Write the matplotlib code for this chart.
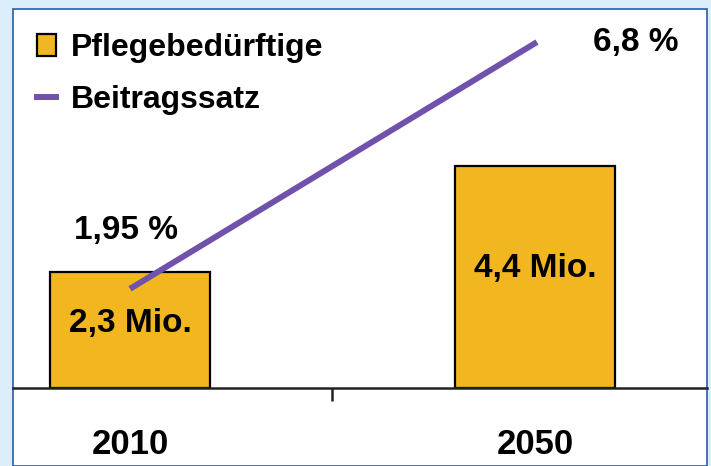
import matplotlib
matplotlib.use("Agg")
import matplotlib.pyplot as plt
from matplotlib.patches import Rectangle, Patch
from matplotlib.lines import Line2D

plt.rcParams['font.family'] = ['Liberation Sans', 'DejaVu Sans']
plt.rcParams['font.weight'] = 'bold'

jahre = ['2010', '2050']
pflegebeduerftige = [2.3, 4.4]       # Mio.
beitragssatz = [1.95, 6.8]           # %
bar_labels = ['2,3 Mio.', '4,4 Mio.']
line_labels = ['1,95 %', '6,8 %']

ORANGE = '#F2B620'
LILA = '#7052AC'
HINTERGRUND = '#DCEEFA'
RAND = '#2A5CA8'

W, H = 711, 466
fig = plt.figure(figsize=(W / 100, H / 100), dpi=100, facecolor=HINTERGRUND)

# weisses Panel mit blauem Rand (hinter den Achsen)
fig.patches.append(Rectangle((13 / W, 0), 694 / W, (H - 9) / H, transform=fig.transFigure,
                             facecolor='white', edgecolor=RAND, linewidth=1.2, zorder=-10))

ax = fig.add_axes([13 / W, 78 / H, 694 / W, 379 / H])
ax.set_zorder(1)
ax.set_facecolor('none')
x = [0, 1]
bars = ax.bar(x, pflegebeduerftige, width=0.395, color=ORANGE, edgecolor='black', linewidth=1.6)
ax.set_xlim(-0.289, 1.425)
ax.set_ylim(0, 7.5)
for s in ['top', 'left', 'right']:
    ax.spines[s].set_visible(False)
ax.spines['bottom'].set_linewidth(1.8)
ax.spines['bottom'].set_color('#222222')
ax.set_yticks([])
ax.set_xticks(x)
ax.set_xticklabels(jahre, fontsize=25, fontweight='bold')
ax.tick_params(axis='x', which='major', length=0, pad=29)
ax.set_xticks([0.5], minor=True)
ax.tick_params(axis='x', which='minor', length=9.5, width=1.8, color='#222222')

ax.text(0, 1.27, bar_labels[0], ha='center', va='center', fontsize=24, fontweight='bold')
ax.text(1, 2.37, bar_labels[1], ha='center', va='center', fontsize=24, fontweight='bold')

ax2 = ax.twinx()
ax2.set_zorder(2)
ax2.set_facecolor('none')
ax2.set_ylim(0, 7.45)
ax2.set_yticks([])
for s in ax2.spines.values():
    s.set_visible(False)
ax2.plot([0, 1.005], beitragssatz, color=LILA, linewidth=4.3, solid_capstyle='butt')
ax2.text(-0.01, 3.1, line_labels[0], ha='center', va='center', fontsize=24, fontweight='bold')
ax2.text(1.25, 6.79, line_labels[1], ha='center', va='center', fontsize=24, fontweight='bold')

handles = [Patch(facecolor=ORANGE, edgecolor='black', linewidth=1.6),
           Line2D([0], [0], color=LILA, linewidth=4.3)]
leg = fig.legend(handles, ['Pflegebedürftige', 'Beitragssatz'], loc='upper left',
                 bbox_to_anchor=(37 / W, (H - 33) / H), frameon=False,
                 handlelength=0.6, handleheight=0.7, handletextpad=0.45,
                 labelspacing=0.7, borderpad=0, borderaxespad=0,
                 prop={'weight': 'bold', 'size': 23})
leg.set_zorder(5)

fig.savefig('out.png', dpi=100, facecolor=HINTERGRUND)
